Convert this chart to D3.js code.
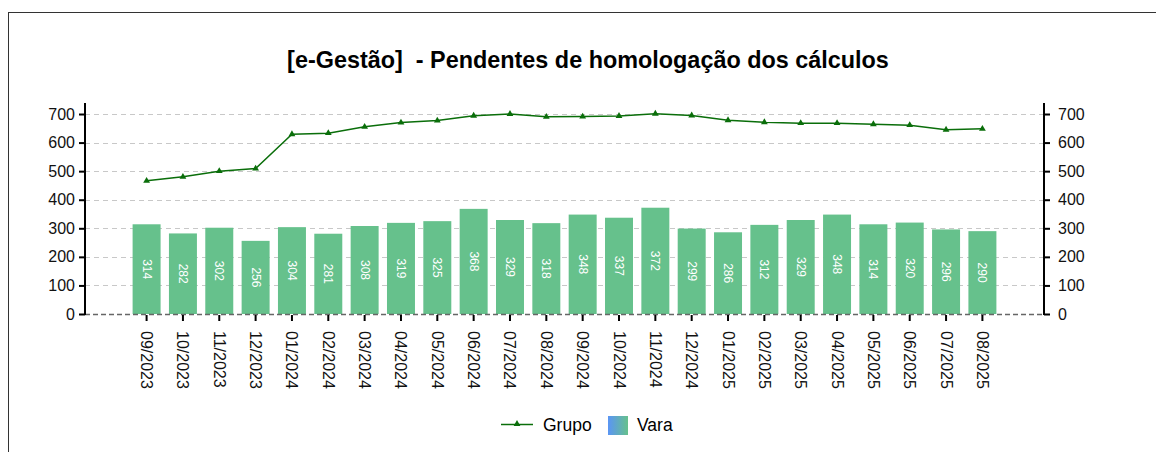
<!DOCTYPE html>
<html lang="pt">
<head>
    <meta charset="UTF-8">
    <title>e-Gestão - Pendentes de homologação</title>
    <style>
        body { margin: 0; background: #fff; }
        svg { display: block; font-family: Arial, "Liberation Sans", sans-serif; }
        .grid line { stroke: #c8c8c8; stroke-dasharray: 5 4; }
        .axis path, .axis line { stroke: #000; }
        .axis text { font-size: 16px; fill: #111; }
        rect.vara { fill: #66c18c; }
        path.grupo { fill: none; stroke: #0a6e0a; stroke-width: 1.5; }
        .bar-label { font-size: 12px; fill: #fff; }
    </style>
</head>
<body>
<svg id="chart"></svg>
<script src="https://cdnjs.cloudflare.com/ajax/libs/d3/7.8.5/d3.min.js"></script>
<script>
    // data
    const months = ["09/2023", "10/2023", "11/2023", "12/2023", "01/2024", "02/2024", "03/2024", "04/2024",
        "05/2024", "06/2024", "07/2024", "08/2024", "09/2024", "10/2024", "11/2024", "12/2024",
        "01/2025", "02/2025", "03/2025", "04/2025", "05/2025", "06/2025", "07/2025", "08/2025"];
    const vara = [314, 282, 302, 256, 304, 281, 308, 319, 325, 368, 329, 318, 348, 337, 372, 299,
        286, 312, 329, 348, 314, 320, 296, 290];
    const grupo = [466, 480, 500, 509, 629, 633, 655, 670, 677, 694, 700, 690, 691, 693, 701, 695,
        678, 671, 668, 668, 664, 661, 645, 648];
    const yTicks = [0, 100, 200, 300, 400, 500, 600, 700];

    const width = 1156, height = 452;
    const plotLeft = 85, plotRight = 1044, plotTop = 103, plotBottom = 314;

    const svg = d3.select("#chart").attr("width", width).attr("height", height);

    // outer frame (only top and left edges are visible in the window)
    svg.append("rect")
        .attr("x", 8.5).attr("y", 12.5)
        .attr("width", 1200).attr("height", 500)
        .attr("fill", "none").attr("stroke", "#333").attr("stroke-width", 1);

    svg.append("text")
        .attr("x", 588).attr("y", 68)
        .attr("text-anchor", "middle")
        .style("font-size", "23.4px").style("font-weight", "bold")
        .attr("xml:space", "preserve")
        .text("[e-Gestão]  - Pendentes de homologação dos cálculos");

    const x = d3.scaleBand().domain(months).range([plotLeft, plotRight])
        .paddingInner(0.23).paddingOuter(1.31);
    const y = d3.scaleLinear().domain([0, 700]).range([plotBottom, plotBottom - 700 * 0.2857]);

    // grid
    svg.append("g").attr("class", "grid")
        .selectAll("line")
        .data(yTicks.filter(d => d > 0))
        .join("line")
        .attr("x1", plotLeft).attr("x2", plotRight)
        .attr("y1", d => Math.round(y(d)) + 0.5).attr("y2", d => Math.round(y(d)) + 0.5);

    // bars
    svg.append("g").selectAll("rect")
        .data(vara)
        .join("rect")
        .attr("class", "vara")
        .attr("x", (d, i) => x(months[i]))
        .attr("width", x.bandwidth())
        .attr("y", d => y(d))
        .attr("height", d => plotBottom - y(d));

    svg.append("g").selectAll("text")
        .data(vara)
        .join("text")
        .attr("class", "bar-label")
        .attr("text-anchor", "middle")
        .attr("dominant-baseline", "central")
        .attr("transform", (d, i) =>
            `translate(${x(months[i]) + x.bandwidth() / 2},${(y(d) + plotBottom) / 2}) rotate(90)`)
        .text(d => d);

    // baseline (dashed dark line at zero)
    svg.append("line")
        .attr("x1", plotLeft).attr("x2", plotRight)
        .attr("y1", plotBottom + 0.5).attr("y2", plotBottom + 0.5)
        .attr("stroke", "#666").attr("stroke-width", 1.5)
        .attr("stroke-dasharray", "5 3");

    // line series
    const cx = i => x(months[i]) + x.bandwidth() / 2;
    const line = d3.line().x((d, i) => cx(i)).y(d => y(d));
    svg.append("path").datum(grupo).attr("class", "grupo").attr("d", line);

    const tri = d3.symbol().type(d3.symbolTriangle).size(20);
    svg.append("g").selectAll("path")
        .data(grupo)
        .join("path")
        .attr("d", tri)
        .attr("fill", "#0a6e0a")
        .attr("transform", (d, i) => `translate(${cx(i)},${y(d)})`);

    // axes
    const leftAxis = d3.axisLeft(y).tickValues(yTicks).tickSize(6).tickPadding(4);
    const gl = svg.append("g").attr("class", "axis").attr("transform", `translate(${plotLeft},0)`).call(leftAxis);
    gl.select(".domain").remove();
    gl.append("line").attr("y1", plotTop).attr("y2", plotBottom + 1).attr("stroke", "#000").attr("stroke-width", 2);

    const rightAxis = d3.axisRight(y).tickValues(yTicks).tickSize(6).tickPadding(8);
    const gr = svg.append("g").attr("class", "axis").attr("transform", `translate(${plotRight},0)`).call(rightAxis);
    gr.select(".domain").remove();
    gr.append("line").attr("y1", plotTop).attr("y2", plotBottom + 1).attr("stroke", "#000").attr("stroke-width", 2);
    gl.selectAll(".tick line").attr("stroke-width", 2);
    gr.selectAll(".tick line").attr("stroke-width", 2);

    const bottomAxis = d3.axisBottom(x).tickSize(6).tickSizeOuter(0).tickPadding(0);
    const gb = svg.append("g").attr("class", "axis").attr("transform", `translate(0,${plotBottom + 1})`).call(bottomAxis);
    gb.select(".domain").remove();
    gb.selectAll(".tick line").attr("stroke-width", 2);
    gb.selectAll(".tick text")
        .attr("text-anchor", "start")
        .attr("dominant-baseline", "central")
        .attr("dy", null)
        .attr("transform", "translate(0,16) rotate(90)")
        .attr("y", 0).attr("x", 0);

    // legend
    const legend = svg.append("g").style("font-size", "17.5px");
    legend.append("line")
        .attr("x1", 501).attr("x2", 533).attr("y1", 424.5).attr("y2", 424.5)
        .attr("stroke", "#0a6e0a").attr("stroke-width", 1.5);
    legend.append("path").attr("d", tri).attr("fill", "#0a6e0a").attr("transform", "translate(517,424)");
    legend.append("text").attr("x", 543).attr("y", 431).text("Grupo");

    const grad = svg.append("defs").append("linearGradient").attr("id", "varaGrad");
    grad.append("stop").attr("offset", "0%").attr("stop-color", "#5b95f5");
    grad.append("stop").attr("offset", "100%").attr("stop-color", "#66c18c");
    legend.append("rect").attr("x", 608).attr("y", 416).attr("width", 20).attr("height", 19)
        .attr("fill", "url(#varaGrad)");
    legend.append("text").attr("x", 637).attr("y", 431).text("Vara");
</script>
</body>
</html>
